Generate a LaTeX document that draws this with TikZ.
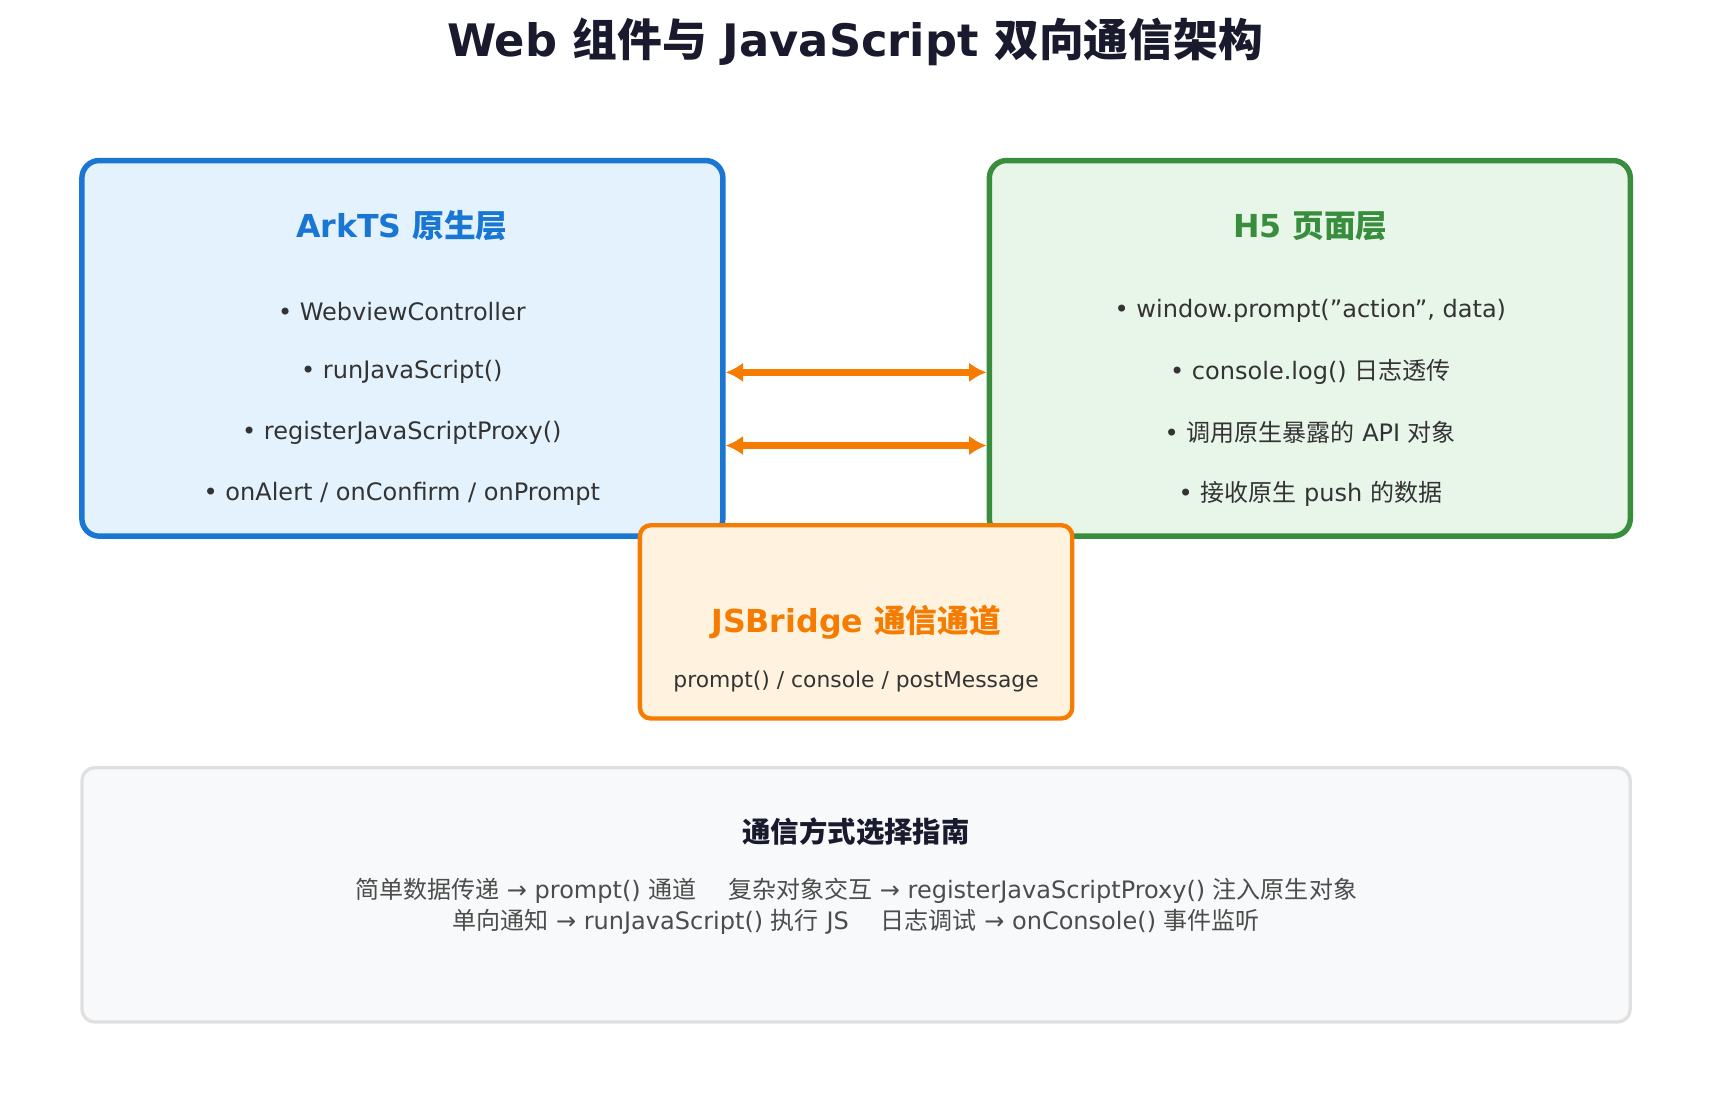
\documentclass[tikz,border=0pt]{standalone}
\usepackage{fontspec}
\setmainfont{DejaVu Sans}
\newfontfamily\cjk{Noto Sans CJK SC}
\newcommand\zh[1]{{\cjk #1}}
\usetikzlibrary{calc,arrows.meta}
\definecolor{arkblue}{HTML}{1976D2}
\definecolor{arkfill}{HTML}{E3F2FD}
\definecolor{hgreen}{HTML}{388E3C}
\definecolor{hfill}{HTML}{E8F5E9}
\definecolor{jsorange}{HTML}{F57C00}
\definecolor{jsfill}{HTML}{FFF3E0}
\definecolor{guidefill}{HTML}{F8F9FA}
\definecolor{guideline}{HTML}{E0E0E0}
\definecolor{ink}{HTML}{1A1A2E}
\definecolor{bodytext}{HTML}{333333}
\tikzset{>=latex}
\tikzstyle{layer}  =[draw,line width=5pt,rounded corners=16pt,inner sep=0pt]
\tikzstyle{bullet} =[font=\fontsize{22}{26}\selectfont,text=bodytext]
\tikzstyle{head}   =[font=\bfseries\fontsize{29}{33}\selectfont]
\tikzstyle{link}   =[jsorange,line width=6pt,{Latex[length=16pt,width=18pt]}-{Latex[length=16pt,width=18pt]}]
\begin{document}
\begin{tikzpicture}[x=1pt,y=-1pt]
  \useasboundingbox (0,0) rectangle (1566,1002);
  % title
  \node[font=\bfseries\fontsize{41}{46}\selectfont,text=ink] (title) at (783,38)
    {Web \zh{组件与} JavaScript \zh{双向通信架构}};

  % guide box
  \node[draw=guideline,fill=guidefill,line width=3pt,rounded corners=12pt,
        minimum width=1418pt,minimum height=233pt] (guide) at (784,819.5) {};
  \node[font=\bfseries\fontsize{26}{30}\selectfont,text=ink] (gh) at (784,762)
    {\zh{通信方式选择指南}};
  \node[font=\fontsize{22}{26}\selectfont,text=black!70] (g1) at (784,816)
    {\zh{简单数据传递} → prompt() \zh{通道}\quad\ \zh{复杂对象交互} → registerJavaScriptProxy() \zh{注入原生对象}};
  \node[font=\fontsize{22}{26}\selectfont,text=black!70] (g2) at (784,844)
    {\zh{单向通知} → runJavaScript() \zh{执行} JS\quad\ \zh{日志调试} → onConsole() \zh{事件监听}};

  % native layer
  \node[layer,draw=arkblue,fill=arkfill,minimum width=587pt,minimum height=344pt] (ark) at (368.5,319) {};
  \node[head,text=arkblue] (arkh) at (368,207) {ArkTS \zh{原生层}};
  \node[bullet] (a1) at (368,285) {• WebviewController};
  \node[bullet] (a2) at (368,341) {• runJavaScript()};
  \node[bullet] (a3) at (368,396) {• registerJavaScriptProxy()};
  \node[bullet] (a4) at (368,452) {• onAlert / onConfirm / onPrompt};

  % h5 layer
  \node[layer,draw=hgreen,fill=hfill,minimum width=587pt,minimum height=344pt] (hfive) at (1199.5,319) {};
  \node[head,text=hgreen] (hh) at (1200,207) {H5 \zh{页面层}};
  \node[bullet] (h1) at (1200,285) {• window.prompt({\char34}action{\char34}, data)};
  \node[bullet] (h2) at (1200,341) {• console.log() \zh{日志透传}};
  \node[bullet] (h3) at (1200,396) {• \zh{调用原生暴露的} API \zh{对象}};
  \node[bullet] (h4) at (1200,452) {• \zh{接收原生} push \zh{的数据}};

  % bridge
  \node[draw=jsorange,fill=jsfill,line width=4pt,rounded corners=10pt,
        minimum width=396pt,minimum height=177pt] (bridge) at (784,569.5) {};
  \node[head,text=jsorange] (bh) at (784,570) {JSBridge \zh{通信通道}};
  \node[font=\fontsize{20}{24}\selectfont,text=bodytext] (bs) at (784,624)
    {prompt() / console / postMessage};

  % arrows
  \coordinate (lower) at (784,408);
  \draw[link] (ark.east |- a2) -- (hfive.west |- a2);
  \draw[link] (ark.east |- lower) -- (hfive.west |- lower);
\end{tikzpicture}
\end{document}
